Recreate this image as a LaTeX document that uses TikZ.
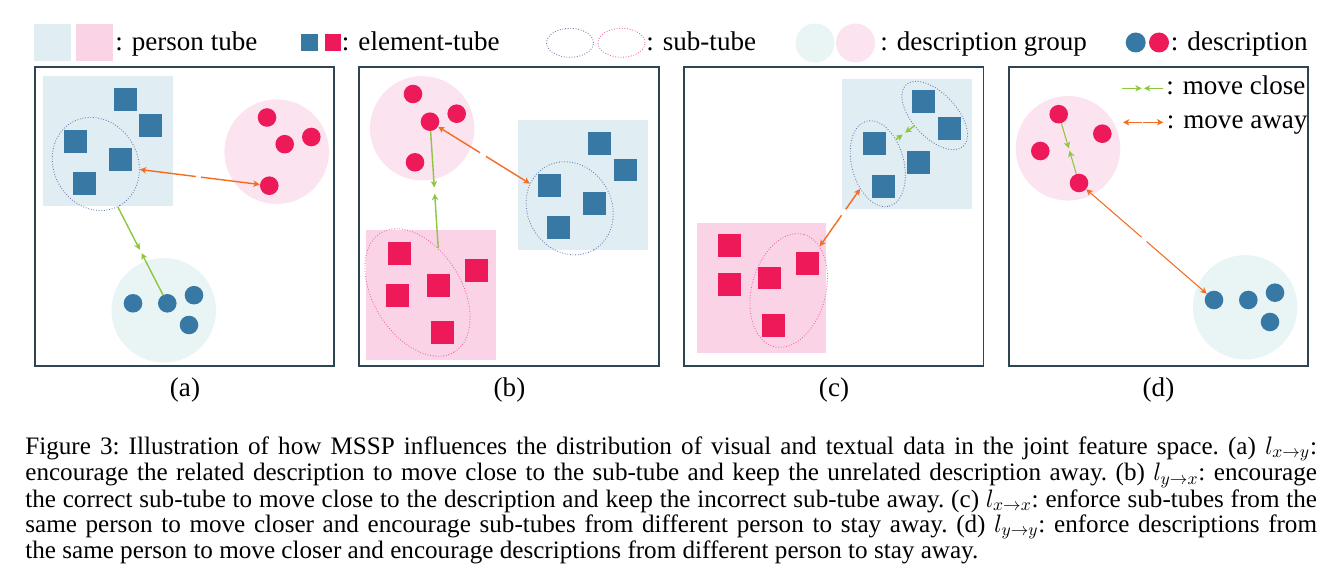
\documentclass[tikz,border=0pt]{standalone}
\usepackage{fontspec}
\setmainfont{Liberation Serif}
\usepackage{tikz}
\usetikzlibrary{arrows.meta,calc,shapes.geometric,positioning}

\definecolor{tubeblue}{RGB}{224,237,242}
\definecolor{tubepink}{RGB}{250,212,230}
\definecolor{groupblue}{RGB}{233,244,245}
\definecolor{grouppink}{RGB}{251,227,239}
\definecolor{elblue}{RGB}{56,120,165}
\definecolor{elred}{RGB}{237,25,88}
\definecolor{movegreen}{RGB}{141,198,63}
\definecolor{moveorange}{RGB}{243,108,33}
\definecolor{framecol}{RGB}{47,69,84}
\definecolor{subblue}{RGB}{105,125,178}
\definecolor{subpink}{RGB}{236,105,158}

\tikzset{
    bsq/.style={rectangle, fill=elblue, minimum size=0.46cm, inner sep=0pt},
    rsq/.style={rectangle, fill=elred, minimum size=0.46cm, inner sep=0pt},
    bdot/.style={circle, fill=elblue, minimum size=0.372cm, inner sep=0pt},
    rdot/.style={circle, fill=elred, minimum size=0.372cm, inner sep=0pt},
    subtube/.style={ellipse, draw, densely dotted, line width=0.5pt, inner sep=0pt},
    moveclose/.style={draw=movegreen, line width=0.8pt, -{Stealth[length=3.6pt,width=3.6pt,inset=1pt]}},
    moveaway/.style={draw=moveorange, line width=0.8pt, -{Stealth[length=3.6pt,width=3.6pt,inset=1pt]}},
    panel/.style={draw=framecol, line width=1pt},
}

\begin{document}
\begin{tikzpicture}[
  x=0.02cm, y=-0.02cm,
  key text/.style={anchor=base west, inner sep=0pt, font=\rmfamily\fontsize{15.4}{18}\selectfont},
  sub label/.style={anchor=base, inner sep=0pt, font=\rmfamily\fontsize{15.4}{18}\selectfont}
]
\useasboundingbox (0,0) rectangle (1342,574);

% Legend
\fill[tubeblue] (34,24) rectangle (70.7,60.7);
\fill[tubepink] (76,24) rectangle (113.3,60.7);
\node[key text] (k-person) at (115,51) {: person tube};
\node[bsq, minimum size=0.33cm] (k-bsq) at (309.3,42.7) {};
\node[rsq, minimum size=0.33cm] (k-rsq) at (332.8,42.7) {};
\node[key text] (k-elem) at (341.6,51) {: element-tube};
\node[subtube, draw=subblue, minimum width=0.94cm, minimum height=0.58cm] (k-bsub) at (570,42.8) {};
\node[subtube, draw=subpink, minimum width=0.94cm, minimum height=0.58cm] (k-psub) at (621.5,42.8) {};
\node[key text] (k-sub) at (646,51) {: sub-tube};
\fill[groupblue] (815,43) circle [radius=19.5];
\fill[grouppink] (855.5,43) circle [radius=19.5];
\node[key text] (k-group) at (880,51) {: description group};
\node[bdot, minimum size=0.4cm] (k-bdot) at (1135.7,42.5) {};
\node[rdot, minimum size=0.4cm] (k-rdot) at (1159,42.5) {};
\node[key text] (k-desc) at (1170.6,51) {: description};

% Panel (a)
\draw[panel] (34.7,66.8) rectangle (334.2,366.2);
\fill[tubeblue] (43,76) rectangle (173,206);
\fill[grouppink] (276.7,151.7) circle [radius=52.3];
\fill[groupblue] (163.8,310.3) circle [radius=52.3];
\node[bsq] (a-s1) at (125.3,99.3) {};
\node[bsq] (a-s2) at (150.8,125.8) {};
\node[bsq] (a-s3) at (75.3,141.3) {};
\node[bsq] (a-s4) at (120.3,159.8) {};
\node[bsq] (a-s5) at (84.3,183.3) {};
\node[subtube, draw=subblue, minimum width=1.92cm, minimum height=1.68cm, rotate=-60] (a-sub) at (95.8,164) {};
\node[rdot] (a-r1) at (267,117.5) {};
\node[rdot] (a-r2) at (284.7,144.2) {};
\node[rdot] (a-r3) at (311.3,137) {};
\node[rdot] (a-r4) at (269.3,185.7) {};
\node[bdot] (a-b1) at (133,303.3) {};
\node[bdot] (a-b2) at (167.3,303.3) {};
\node[bdot] (a-b3) at (194,295.2) {};
\node[bdot] (a-b4) at (189,325) {};
\draw[moveaway] ($(a-sub)!.576!(a-r4)$) -- (a-sub);
\draw[moveaway] ($(a-sub)!.606!(a-r4)$) -- (a-r4);
\draw[moveclose] (a-sub) -- ($(a-sub)!.615!(a-b2)$);
\draw[moveclose] (a-b2) -- ($(a-sub)!.64!(a-b2)$);

% Panel (b)
\draw[panel] (359.2,66.8) rectangle (658.7,366.2);
\fill[grouppink] (422.2,128.3) circle [radius=52.2];
\fill[tubeblue] (518,120) rectangle (648,250);
\fill[tubepink] (366,230) rectangle (496,360);
\node[rdot] (b-r1) at (413,94) {};
\node[rdot] (b-r2) at (430,121.7) {};
\node[rdot] (b-r3) at (456.7,113.7) {};
\node[rdot] (b-r4) at (415,162.3) {};
\node[bsq] (b-s1) at (599.3,143.3) {};
\node[bsq] (b-s2) at (625,170) {};
\node[bsq] (b-s3) at (549.3,185.3) {};
\node[bsq] (b-s4) at (594.3,203.8) {};
\node[bsq] (b-s5) at (558.8,227.8) {};
\node[subtube, draw=subblue, minimum width=1.92cm, minimum height=1.68cm, rotate=-60] (b-bsub) at (569.7,208.3) {};
\node[rsq] (b-p1) at (399.3,253.3) {};
\node[rsq] (b-p2) at (476.3,270.8) {};
\node[rsq] (b-p3) at (438.5,285.3) {};
\node[rsq] (b-p4) at (397.8,295.8) {};
\node[rsq] (b-p5) at (442.5,332.8) {};
\node[subtube, draw=subpink, minimum width=2.8cm, minimum height=1.76cm, rotate=-58] (b-psub) at (417.5,292.5) {};
\draw[moveclose] (b-r2) -- ($(b-r2)!.52!(b-psub.123)$);
\draw[moveclose] (b-psub.123) -- ($(b-r2)!.57!(b-psub.123)$);
\draw[moveaway] ($(b-r2)!.358!(b-bsub)$) -- (b-r2);
\draw[moveaway] ($(b-r2)!.40!(b-bsub)$) -- (b-bsub);

% Panel (c)
\draw[panel] (684,66.8) rectangle (983.5,366.2);
\fill[tubeblue] (842,79) rectangle (972,209);
\fill[tubepink] (697,223) rectangle (826,353);
\node[bsq] (c-s1) at (923.8,101.8) {};
\node[bsq] (c-s2) at (949.5,128.8) {};
\node[bsq] (c-s3) at (874,143.8) {};
\node[bsq] (c-s4) at (918.8,162.8) {};
\node[bsq] (c-s5) at (883,186.3) {};
\node[subtube, draw=subblue, minimum width=1.76cm, minimum height=1.04cm, rotate=-75] (c-e1) at (877.8,163.7) {};
\node[subtube, draw=subblue, minimum width=1.68cm, minimum height=0.88cm, rotate=-47] (c-e2) at (934.7,115.5) {};
\node[rsq] (c-p1) at (729.5,245.8) {};
\node[rsq] (c-p2) at (807.5,263.8) {};
\node[rsq] (c-p3) at (769,278) {};
\node[rsq] (c-p4) at (729,284.5) {};
\node[rsq] (c-p5) at (773.5,325.5) {};
\node[subtube, draw=subpink, minimum width=2.32cm, minimum height=1.48cm, rotate=75] (c-psub) at (788.7,290.5) {};
\draw[moveclose] (c-e1.128) -- ($(c-e1.128)!.36!(c-e2.254)$);
\draw[moveclose] (c-e2.254) -- ($(c-e1.128)!.5!(c-e2.254)$);
\draw[moveaway] ($(c-e1)!.36!(c-psub)$) -- (c-e1);
\draw[moveaway] ($(c-e1)!.407!(c-psub)$) -- (c-psub);

% Panel (d)
\draw[panel] (1008.7,66.8) rectangle (1308.2,366.2);
\fill[grouppink] (1068,148.3) circle [radius=52.3];
\fill[groupblue] (1245.2,307.3) circle [radius=52.2];
\node[rdot] (d-r1) at (1058.7,114.2) {};
\node[rdot] (d-r2) at (1102.3,133.7) {};
\node[rdot] (d-r3) at (1040.3,151) {};
\node[rdot] (d-r4) at (1079,183) {};
\node[bdot] (d-b1) at (1214,300) {};
\node[bdot] (d-b2) at (1248.3,300) {};
\node[bdot] (d-b3) at (1275,292.7) {};
\node[bdot] (d-b4) at (1270,322) {};
\draw[moveclose, line width=0.6pt] (d-r1) -- ($(d-r1)!.496!(d-r4)$);
\draw[moveclose, line width=0.6pt] (d-r4) -- ($(d-r1)!.53!(d-r4)$);
\draw[moveaway, line width=0.6pt] ($(d-r4)!.464!(d-b1)$) -- (d-r4);
\draw[moveaway, line width=0.6pt] ($(d-r4)!.50!(d-b1)$) -- (d-b1);

% Arrow key in panel (d)
\coordinate (kc1) at (1122.3,88.3);
\coordinate (kc2) at (1141.7,88.3);
\coordinate (kc3) at (1163.3,88.3);
\coordinate (kc4) at (1144,88.3);
\draw[moveclose, line width=0.6pt] (kc1) -- (kc2);
\draw[moveclose, line width=0.6pt] (kc3) -- (kc4);
\node[key text] (k-close) at (1166,95) {: move close};
\coordinate (ka1) at (1141.7,122.3);
\coordinate (ka2) at (1123,122.3);
\coordinate (ka3) at (1143.3,122.3);
\coordinate (ka4) at (1163.3,122.3);
\draw[moveaway, line width=0.6pt] (ka1) -- (ka2);
\draw[moveaway, line width=0.6pt] (ka3) -- (ka4);
\node[key text] (k-away) at (1166.5,129) {: move away};

% Sub-figure labels
\node[sub label] (la) at (185,396) {(a)};
\node[sub label] (lb) at (509.5,396) {(b)};
\node[sub label] (lc) at (834,396) {(c)};
\node[sub label] (ld) at (1158.5,396) {(d)};

% Caption
\node[anchor=base west, text width=25.84cm, align=justify, inner sep=0pt,
      font=\fontsize{14.3}{12.3}\selectfont\frenchspacing] (cap) at (25,454)
  {Figure 3: Illustration of how MSSP influences the distribution of visual and textual data in the joint feature space. (a) $l_{x\rightarrow y}$:\linebreak
   encourage the related description to move close to the sub-tube and keep the unrelated description away. (b) $l_{y\rightarrow x}$: encourage\linebreak
   the correct sub-tube to move close to the description and keep the incorrect sub-tube away. (c) $l_{x\rightarrow x}$: enforce sub-tubes from the\linebreak
   same person to move closer and encourage sub-tubes from different person to stay away. (d) $l_{y\rightarrow y}$: enforce descriptions from\linebreak
   the same person to move closer and encourage descriptions from different person to stay away.};

\end{tikzpicture}
\end{document}
